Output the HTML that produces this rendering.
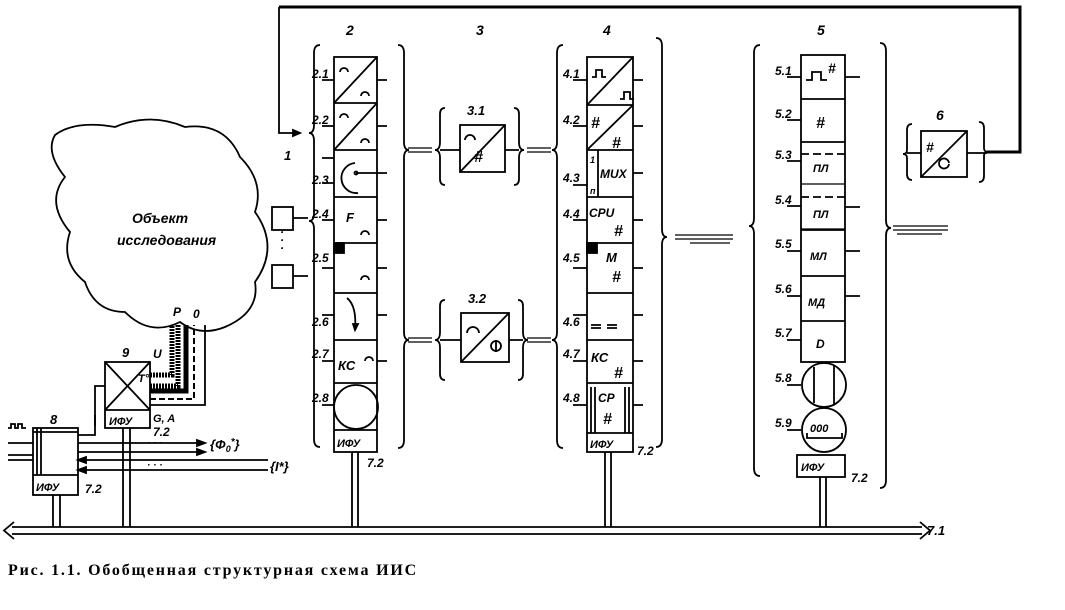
<!DOCTYPE html>
<html><head><meta charset="utf-8"><style>
html,body{margin:0;padding:0;background:#fff;}
svg{display:block}
text{font-family:"Liberation Sans",sans-serif;font-style:italic;fill:#000;font-weight:bold}
text.cap{font-family:"Liberation Serif",serif;font-style:normal;font-weight:bold;letter-spacing:1.8px}
</style></head><body>
<svg width="1065" height="610" viewBox="0 0 1065 610" xmlns="http://www.w3.org/2000/svg">
<g fill="none" stroke="#000" stroke-width="1.8">
<path d="M279 7 H1020 V152 H987" stroke-width="3"/>
<path d="M279 7 V133 H300"/><path d="M300 133 l-7 -3 v6 z" fill="#000"/>

<rect x="334" y="57" width="43" height="395"/>
<path d="M334 103H377M334 150H377M334 197H377M334 243H377M334 293H377M334 340H377M334 383H377M334 430H377"/>
<path d="M334 103L377 57M334 150L377 103"/>
<path d="M340 72a4 4 0 0 1 8 0M361 96a4 4 0 0 1 8 0M340 118a4 4 0 0 1 8 0M361 143a4 4 0 0 1 8 0"/>
<path d="M355 163a14 14 0 1 0 3 30"/><path d="M356 173H378"/><circle cx="356" cy="173" r="1.5"/>
<path d="M361 235a4 4 0 0 1 8 0M361 280a4 4 0 0 1 8 0M365 361a4 4 0 0 1 8 0"/>
<path d="M347 298q10 8 8 32"/><path d="M355 330l-2-6h5z" fill="#000"/>
<circle cx="356" cy="407" r="22"/>
<rect x="334" y="243" width="10" height="10" fill="#000"/>
<path d="M377 80h10M377 126h10M377 173h10M377 220h10M377 268h10M377 315h10M377 361h10"/>
<path d="M322 80h12M322 126h12M322 158h12M322 183h12M322 220h12M322 268h12M322 315h12M322 361h12M322 405h12"/>
<path d="M320 45q-6 0-6 8v72q0 8-5 8q5 0 5 8v72q0 8-5 8q5 0 5 8v210q0 8 6 8"/>
<path d="M398 45q6 0 6 8v89q0 8 5 8q-5 0-5 8v174q0 8 5 8q-5 0-5 8v92q0 8-6 8"/>
<rect x="272" y="207" width="21" height="23"/><rect x="272" y="265" width="21" height="23"/>
<path d="M293 218h15M293 276h15"/>

<rect x="460" y="125" width="45" height="47"/><path d="M460 172L505 125"/>
<path d="M465 140a5 5 0 0 1 10 0"/>
<rect x="461" y="313" width="48" height="49"/><path d="M461 362L509 313"/>
<path d="M467 333a6 6 0 0 1 12 0"/><circle cx="496" cy="346" r="5"/><path d="M496 340v12"/>
<path d="M445 108q-5 0-5 6v28q0 8-5 8q5 0 5 8v21q0 6 5 6M514 108q5 0 5 6v28q0 8 5 8q-5 0-5 8v21q0 6-5 6"/>
<path d="M445 300q-5 0-5 6v26q0 8-5 8q5 0 5 8v26q0 6 5 6M518 300q5 0 5 6v26q0 8 5 8q-5 0-5 8v26q0 6-5 6"/>
<path d="M440 150h20M505 150h14M440 340h21M509 340h14"/>
<path d="M408 148h24M408 152h24M527 148h24M527 152h24M408 338h24M408 342h24M527 338h24M527 342h24" stroke-width="1.2"/>

<rect x="587" y="57" width="46" height="395"/>
<path d="M587 105H633M587 150H633M587 197H633M587 243H633M587 293H633M587 340H633M587 383H633M587 433H633"/>
<path d="M587 105L633 57M587 150L633 105"/>
<path d="M592 77h4v-7h6v7h4M620 99h4v-7h6v7h4"/>
<path d="M598 150v47"/>
<path d="M591 325h10M591 328h10M607 325h10M607 328h10"/>
<path d="M591 387v46M629 387v46M595 387v46M625 387v46"/>
<rect x="587" y="243" width="10" height="10" fill="#000"/>
<path d="M633 80h10M633 126h10M633 173h10M633 220h10M633 268h10M633 315h10M633 361h10M633 405h10"/>
<path d="M573 80h14M573 126h14M573 185h14M573 220h14M573 268h14M573 315h14M573 361h14M573 405h14"/>
<path d="M563 45q-6 0-6 8v89q0 8-5 8q5 0 5 8v174q0 8-5 8q5 0 5 8v92q0 8 6 8"/>
<path d="M656 38q6 0 6 8v183q0 8 5 8q-5 0-5 8v194q0 8-6 8"/>
<path d="M675 235h58M675 239h58M690 243h40" stroke-width="1.2"/>

<rect x="801" y="55" width="44" height="307"/>
<path d="M801 99H845M801 142H845M801 230H845M801 276H845M801 321H845"/>
<path d="M801 154H845M801 197H845" stroke-dasharray="8 4"/>
<path d="M801 184H845M801 229H845" stroke-width="1.2"/>
<path d="M806 80h6v-8h9v8h6"/>
<circle cx="824" cy="385" r="22"/><path d="M814 367v36M834 366v38"/>
<circle cx="824" cy="430" r="22"/><path d="M807 433v5h35v-5"/>
<rect x="797" y="455" width="48" height="22"/>
<path d="M845 77h15M845 207h15M845 251h15M845 296h15"/>
<path d="M787 77h14M787 120h14M787 161h14M787 206h14M787 251h14M787 296h14M787 340h14M787 385h14M787 430h14"/>
<path d="M760 45q-6 0-6 8v165q0 8-5 8q5 0 5 8v234q0 8 6 8M880 43q6 0 6 8v169q0 8 5 8q-5 0-5 8v244q0 8-6 8"/>
<path d="M893 226h55M893 230h55M897 234h45" stroke-width="1.2"/>

<rect x="921" y="131" width="46" height="46"/><path d="M921 177L967 131"/>
<path d="M949 164a5 5 0 1 1 0 -1"/>
<path d="M912 124q-5 0-5 6v20q0 4-4 4q4 0 4 4v16q0 6 5 6M979 122q5 0 5 6v20q0 4 4 4q-4 0-4 4v20q0 6-5 6"/>
<path d="M907 153h14M967 153h20"/>

<path d="M12 527H922M12 534H922"/>
<path d="M14 522l-10 8.5l10 8.5M920 522l10 8.5l-10 8.5"/>
<path d="M352 452v75M358 452v75M605 452v75M611 452v75M820 477v50M826 477v50M53 495v32M60 495v32M123 428v99M130 428v99"/>

<path d="M55 135q20-15 60-8q35-15 70 0q40-5 55 30q25 25 15 55q25 35 0 70q5 30-30 45q-25 10-45-5q-30 15-55-10q-30 0-40-30q-25-20-15-50q-25-30-5-55q-20-25-10-42z"/>
<rect x="105" y="362" width="45" height="66"/><path d="M105 410H150M105 362L150 410M150 362L105 410"/>
<path d="M150 375h22v-50M150 386h28v-61" stroke-width="5" stroke-dasharray="2 1"/>
<path d="M150 391h36v-66" stroke-width="5"/>
<path d="M150 399h44v-74" stroke-width="2" stroke-dasharray="6 3"/>
<path d="M150 405h55v-80"/>
<path d="M105 386h-10v40"/>
<rect x="33" y="428" width="45" height="67"/><path d="M33 475H78M37 428v47M41 428v47M33 432h45"/>
<path d="M78 435h17v-20M78 443h127M78 452h127M78 460h190M78 470h190"/>
<path d="M205 443l-8-3v6zM205 452l-8-3v6zM78 460l8-3v6zM78 470l8-3v6z" fill="#000"/>
<path d="M8 443h25M8 455h25M8 460h25"/>
<path d="M8 428h3v-4h4v4h3v-4h4v4h4"/>
</g>
<g fill="#000" stroke="none" font-size="12">
<text x="346" y="35" font-size="14">2</text><text x="476" y="35" font-size="14">3</text><text x="603" y="35" font-size="14">4</text><text x="817" y="35" font-size="14">5</text><text x="936" y="120" font-size="14">6</text>
<text x="284" y="160" font-size="13">1</text>
<text x="312" y="78">2.1</text><text x="312" y="124">2.2</text><text x="312" y="184">2.3</text><text x="312" y="218">2.4</text><text x="312" y="262">2.5</text><text x="312" y="326">2.6</text><text x="312" y="358">2.7</text><text x="312" y="402">2.8</text>
<text x="346" y="222" font-size="13">F</text><text x="338" y="370" font-size="13">КС</text>
<text x="337" y="447" font-size="11">ИФУ</text><text x="367" y="467" font-size="12">7.2</text>
<text x="467" y="115" font-size="13">3.1</text><text x="474" y="162" font-size="16" font-style="normal">#</text>
<text x="468" y="303" font-size="13">3.2</text>
<text x="563" y="78">4.1</text><text x="563" y="124">4.2</text><text x="563" y="182">4.3</text><text x="563" y="218">4.4</text><text x="563" y="262">4.5</text><text x="563" y="326">4.6</text><text x="563" y="358">4.7</text><text x="563" y="402">4.8</text>
<text x="591" y="128" font-size="16" font-style="normal">#</text><text x="612" y="148" font-size="16" font-style="normal">#</text>
<text x="590" y="163" font-size="9">1</text><text x="590" y="194" font-size="9">п</text>
<text x="600" y="178">MUX</text><text x="589" y="217">CPU</text><text x="614" y="236" font-size="16" font-style="normal">#</text>
<text x="606" y="262" font-size="13">M</text><text x="612" y="282" font-size="16" font-style="normal">#</text>
<text x="591" y="362" font-size="13">КС</text><text x="614" y="378" font-size="16" font-style="normal">#</text>
<text x="598" y="402">CP</text><text x="603" y="424" font-size="16" font-style="normal">#</text>
<text x="590" y="448" font-size="11">ИФУ</text><text x="637" y="455" font-size="12">7.2</text>
<text x="775" y="75">5.1</text><text x="775" y="118">5.2</text><text x="775" y="159">5.3</text><text x="775" y="204">5.4</text><text x="775" y="248">5.5</text><text x="775" y="293">5.6</text><text x="775" y="337">5.7</text><text x="775" y="382">5.8</text><text x="775" y="427">5.9</text>
<text x="828" y="73" font-size="14" font-style="normal">#</text><text x="816" y="128" font-size="16" font-style="normal">#</text>
<text x="813" y="172" font-size="11">ПЛ</text><text x="813" y="218" font-size="11">ПЛ</text><text x="810" y="260" font-size="11">МЛ</text><text x="808" y="306" font-size="11">МД</text><text x="816" y="348" font-size="12">D</text>
<text x="810" y="432" font-size="11">000</text>
<text x="801" y="471" font-size="11">ИФУ</text><text x="851" y="482" font-size="12">7.2</text>
<text x="926" y="152" font-size="14" font-style="normal">#</text>
<text x="927" y="535" font-size="13">7.1</text>
<text x="132" y="223" font-size="14" font-weight="normal">Объект</text><text x="117" y="245" font-size="14" font-weight="normal">исследования</text>
<text x="173" y="316" font-size="12">P</text><text x="193" y="318" font-size="12">0</text><text x="153" y="358" font-size="12">U</text><text x="138" y="382" font-size="11">T°</text>
<text x="122" y="357" font-size="13">9</text><text x="109" y="425" font-size="11">ИФУ</text><text x="153" y="422" font-size="11">G, A</text><text x="153" y="436" font-size="12">7.2</text>
<text x="50" y="424" font-size="13">8</text><text x="36" y="491" font-size="11">ИФУ</text><text x="85" y="493" font-size="12">7.2</text>
<text x="210" y="449" font-size="13">{Φ<tspan font-size="9" dy="3">0</tspan><tspan dy="-7" font-size="10">*</tspan><tspan dy="4">}</tspan></text>
<text x="270" y="471" font-size="13">{I*}</text>
<text x="147" y="446" font-size="10">· · ·</text><text x="147" y="468" font-size="10">· · ·</text>
<text x="280" y="252" font-size="12">·</text><text x="280" y="244" font-size="12">·</text><text x="280" y="236" font-size="12">·</text>
<text class="cap" x="8" y="575" font-size="16">Рис. 1.1. Обобщенная структурная схема ИИС</text>
</g>
</svg>
</body></html>
